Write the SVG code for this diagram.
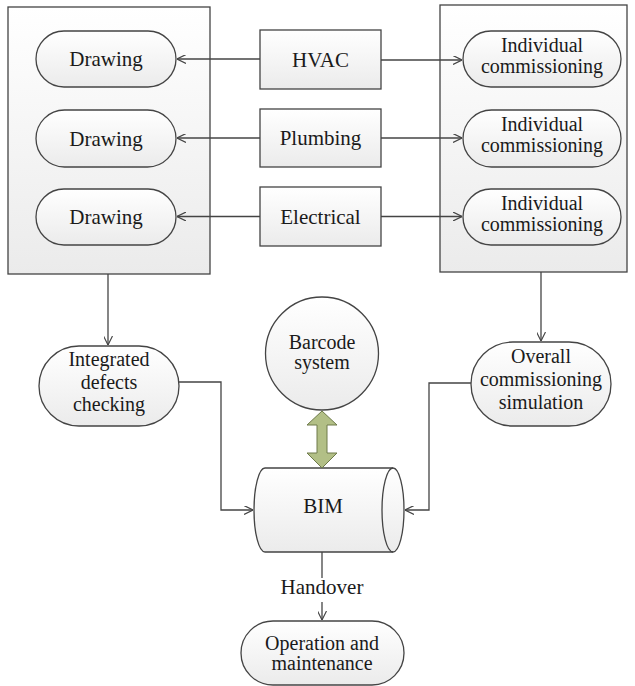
<svg xmlns="http://www.w3.org/2000/svg" width="635" height="686" viewBox="0 0 635 686">
<defs>
<linearGradient id="g" x1="0" y1="0" x2="0" y2="1">
<stop offset="0" stop-color="#ffffff"/>
<stop offset="1" stop-color="#ebebeb"/>
</linearGradient>
<marker id="arr" viewBox="0 0 10 10" refX="10" refY="5" markerWidth="9" markerHeight="9" markerUnits="userSpaceOnUse" orient="auto">
<path d="M0,0 L10,5 L0,10" fill="none" stroke="#444" stroke-width="1.3"/>
</marker>
<style>
.s{fill:url(#g);stroke:#444;stroke-width:1.3}
.t{font-family:'Liberation Serif',serif;font-size:21px;fill:#1a1a1a;text-anchor:middle}
.m{font-size:20px}
.c{fill:none;stroke:#444;stroke-width:1.3}
</style>
</defs>
<rect width="635" height="686" fill="#fff"/>
<g id="left-box"><rect class="s" x="8" y="7" width="202" height="267"/></g>
<g id="right-box"><rect class="s" x="440" y="5" width="187" height="267"/></g>
<g id="drawing1"><rect class="s" x="36" y="31" width="140" height="56" rx="28"/><text class="t" x="106" y="66">Drawing</text></g>
<g id="drawing2"><rect class="s" x="36" y="110" width="140" height="57" rx="28.5"/><text class="t" x="106" y="145.5">Drawing</text></g>
<g id="drawing3"><rect class="s" x="36" y="189" width="140" height="56" rx="28"/><text class="t" x="106" y="224">Drawing</text></g>
<g id="hvac"><rect class="s" x="260" y="30" width="121" height="59"/><text class="t" x="320.5" y="66.5">HVAC</text></g>
<g id="plumbing"><rect class="s" x="260" y="109" width="121" height="58"/><text class="t" x="320.5" y="145">Plumbing</text></g>
<g id="electrical"><rect class="s" x="260" y="187" width="121" height="59"/><text class="t" x="320.5" y="223.5">Electrical</text></g>
<g id="ic1"><rect class="s" x="463" y="31" width="158" height="56" rx="28"/><text class="t m"><tspan x="542" y="52">Individual</tspan><tspan x="542" y="73">commissioning</tspan></text></g>
<g id="ic2"><rect class="s" x="463" y="110" width="158" height="57" rx="28.5"/><text class="t m"><tspan x="542" y="131">Individual</tspan><tspan x="542" y="152">commissioning</tspan></text></g>
<g id="ic3"><rect class="s" x="463" y="189" width="158" height="56" rx="28"/><text class="t m"><tspan x="542" y="210">Individual</tspan><tspan x="542" y="231">commissioning</tspan></text></g>
<g id="integrated"><rect class="s" x="39" y="346" width="140" height="80" rx="40"/><text class="t m"><tspan x="109" y="366">Integrated</tspan><tspan x="109" y="389">defects</tspan><tspan x="109" y="411">checking</tspan></text></g>
<g id="overall"><rect class="s" x="471" y="342" width="140" height="84" rx="42"/><text class="t m"><tspan x="541" y="363">Overall</tspan><tspan x="541" y="386">commissioning</tspan><tspan x="541" y="409">simulation</tspan></text></g>
<g id="barcode"><circle class="s" cx="322" cy="353.5" r="56.5"/><text class="t m"><tspan x="322" y="349">Barcode</tspan><tspan x="322" y="369">system</tspan></text></g>
<g id="bim"><path class="s" d="M265,468 L393,468 A11,42 0 0 1 393,552 L265,552 A11,42 0 0 1 265,468 Z"/><path class="c" d="M393,468 A11,42 0 0 0 393,552"/><text class="t" x="323" y="513">BIM</text></g>
<g id="operation"><rect class="s" x="241" y="621" width="163" height="64" rx="32"/><text class="t m"><tspan x="322" y="650">Operation and</tspan><tspan x="322" y="670">maintenance</tspan></text></g>
<g id="connectors">
<line class="c" x1="260" y1="59" x2="177" y2="59" marker-end="url(#arr)"/>
<line class="c" x1="260" y1="138" x2="177" y2="138" marker-end="url(#arr)"/>
<line class="c" x1="260" y1="216.5" x2="177" y2="216.5" marker-end="url(#arr)"/>
<line class="c" x1="381" y1="60" x2="462" y2="60" marker-end="url(#arr)"/>
<line class="c" x1="381" y1="138" x2="462" y2="138" marker-end="url(#arr)"/>
<line class="c" x1="381" y1="216.5" x2="462" y2="216.5" marker-end="url(#arr)"/>
<line class="c" x1="108" y1="274" x2="108" y2="345" marker-end="url(#arr)"/>
<line class="c" x1="541" y1="272" x2="541" y2="341" marker-end="url(#arr)"/>
<polyline class="c" points="179,382 221,382 221,510 253,510" marker-end="url(#arr)"/>
<polyline class="c" points="471,383 429,383 429,510 405,510" marker-end="url(#arr)"/>
<line class="c" x1="322" y1="552" x2="322" y2="578"/>
<line class="c" x1="322" y1="602" x2="322" y2="620" marker-end="url(#arr)"/>
<text class="t" x="322" y="594">Handover</text>
<path d="M322,411 L337,425 L327,425 L327,453 L337,453 L322,468 L307,453 L317,453 L317,425 L307,425 Z" fill="#b2bf86" stroke="#6e7a4a" stroke-width="1"/>
</g>
</svg>
